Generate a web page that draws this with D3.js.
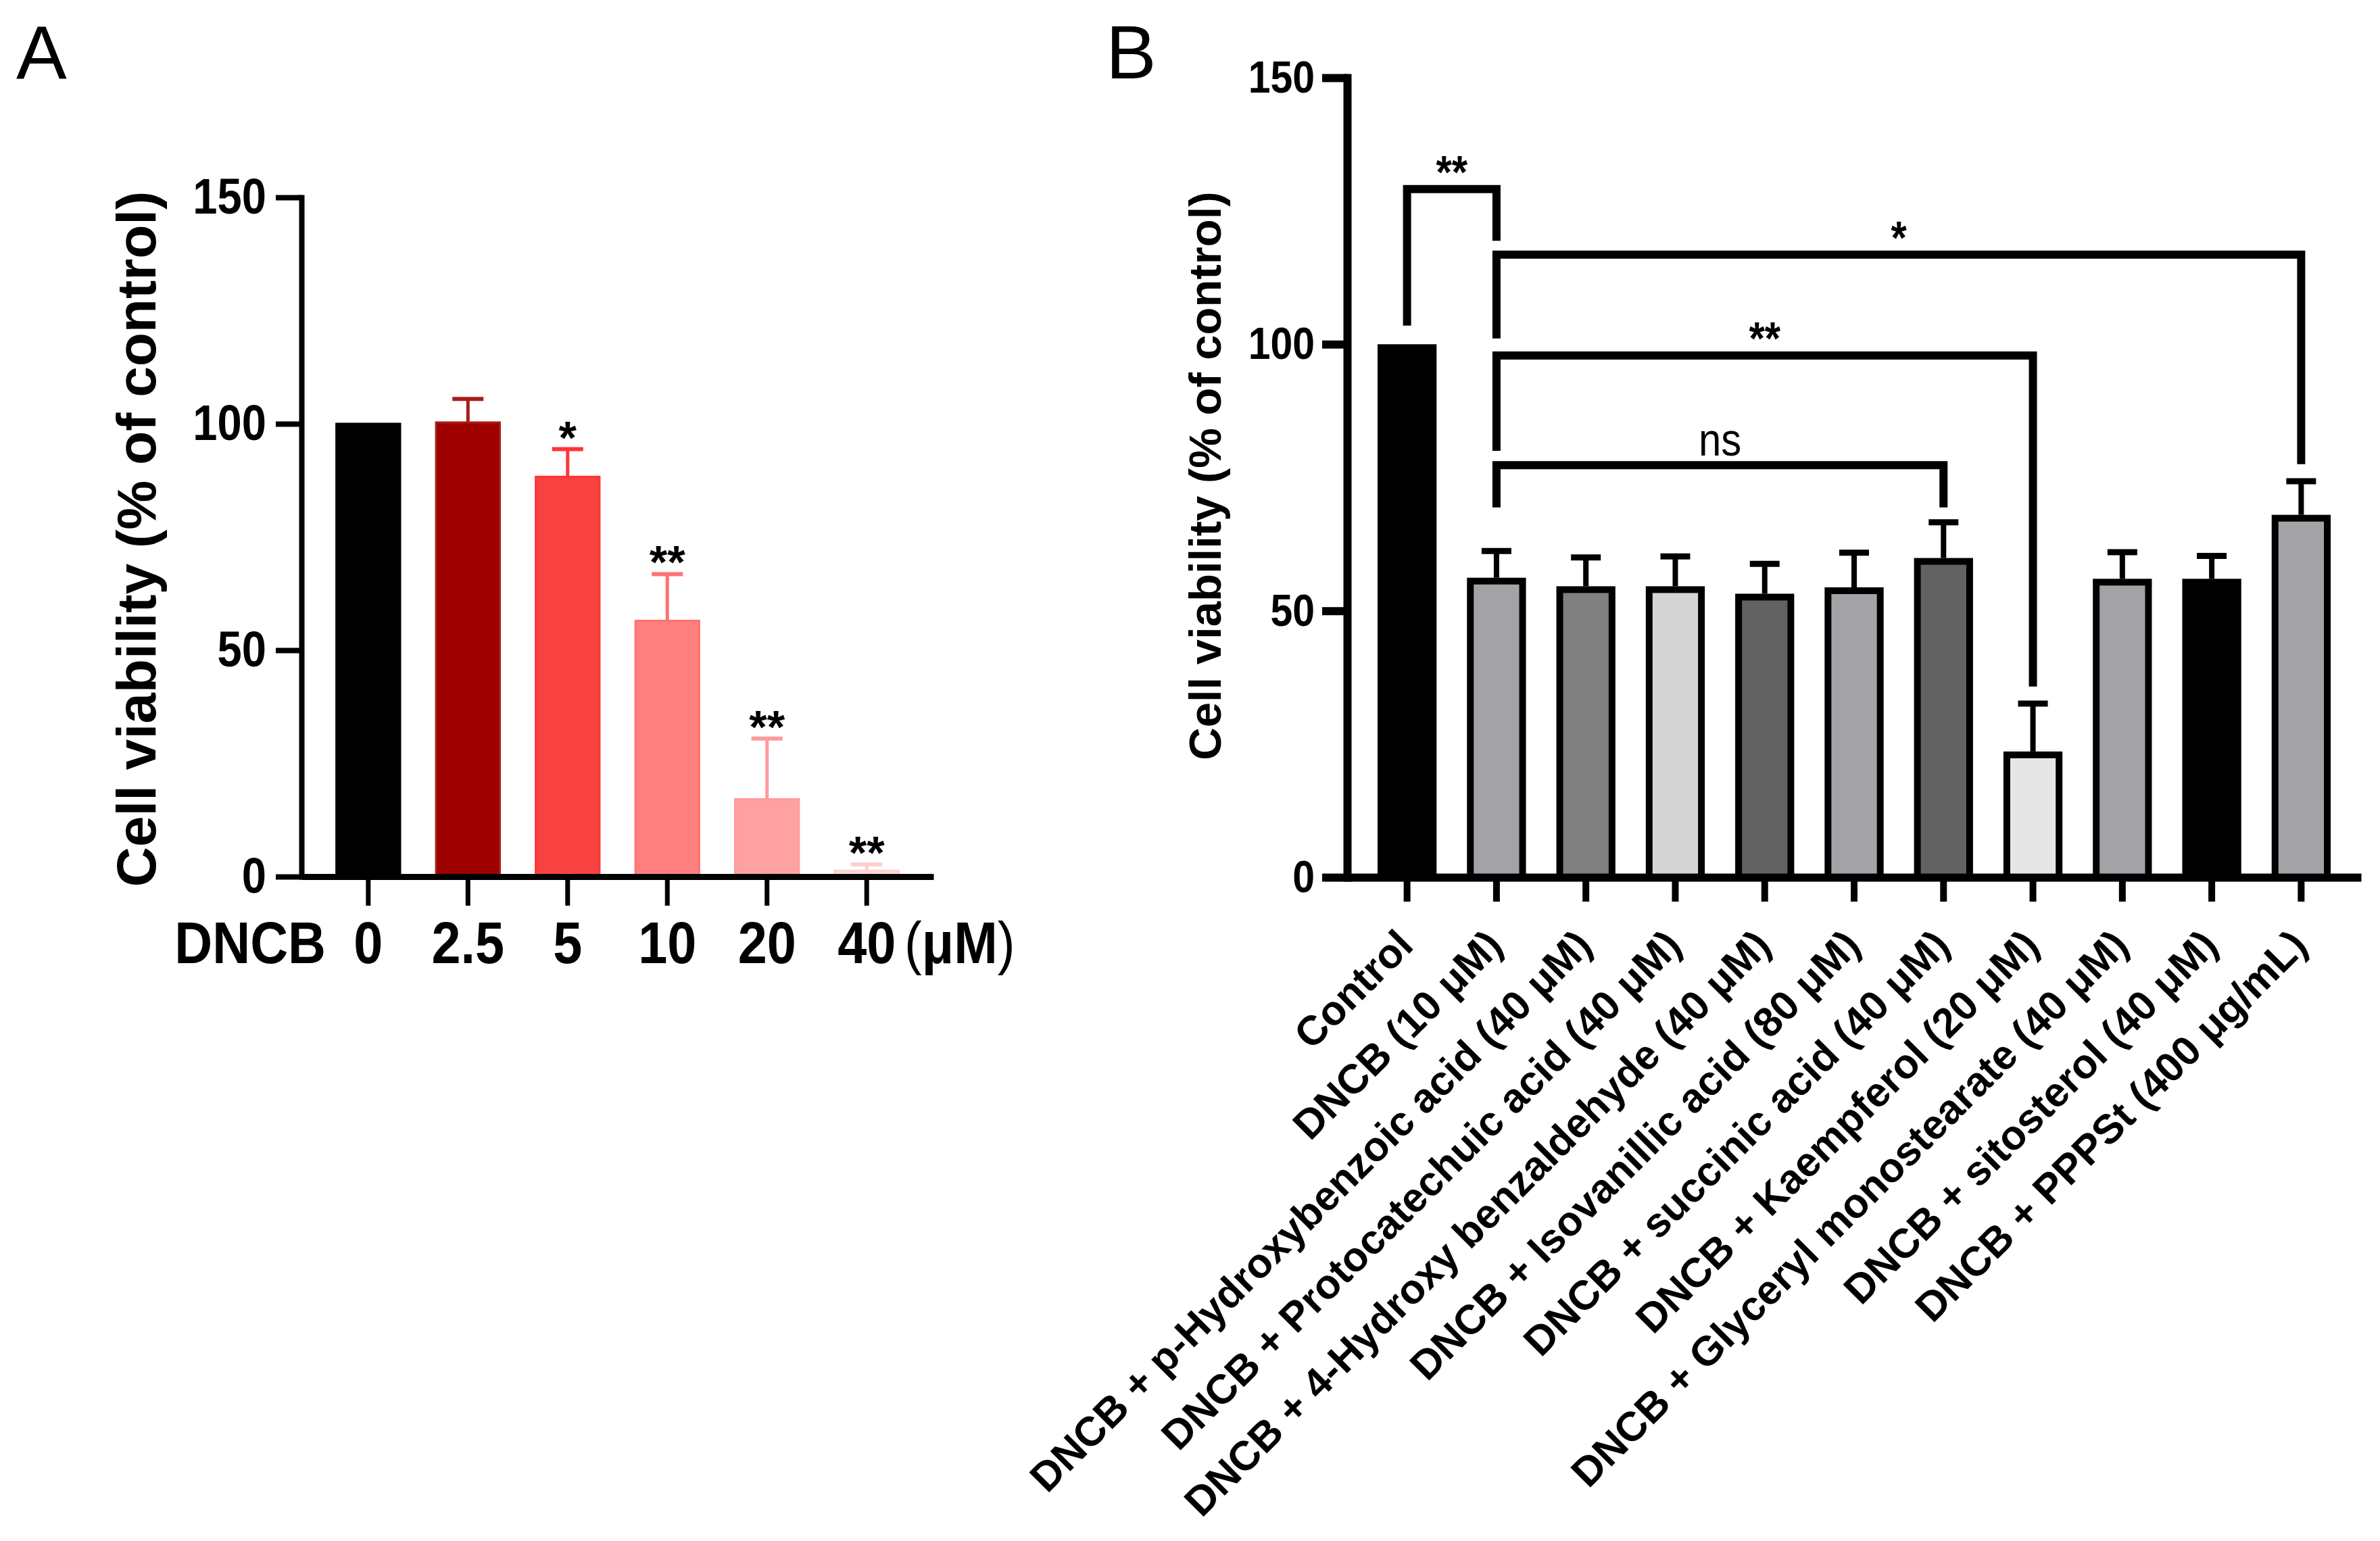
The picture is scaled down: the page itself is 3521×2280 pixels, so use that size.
<!DOCTYPE html>
<html>
<head>
<meta charset="utf-8">
<script src="https://cdn.jsdelivr.net/npm/d3@7"></script>
<style>
  html, body { margin: 0; padding: 0; background: #fff; }
  svg { display: block; }
  text { font-family: "Liberation Sans", Arial, Helvetica, sans-serif; }
</style>
</head>
<body>
<svg id="chart"></svg>
<script>
// [A] Datos ------------------------------------------------------------------
// Panel A: dosis de DNCB
const doseLabels = ["0", "2.5", "5", "10", "20", "40"];
const doseMeans  = [100, 100.3, 88.3, 56.5, 17.1, 1.3];
const doseErrors = [0, 5.2, 6.1, 10.3, 13.4, 1.4];
const doseSig    = ["", "", "*", "**", "**", "**"];
const doseFills  = ["#000000", "#9e0000", "#f84242", "#ff7f7f", "#ffa1a1", "#ffd9d9"];
const doseEdges  = ["#000000", "#a81c1c", "#ff3535", "#ff7272", "#ff9b9b", "#ffcfcf"];

// Panel B: tratamientos
const groupLabels = [
  "Control",
  "DNCB (10 μM)",
  "DNCB + p-Hydroxybenzoic acid (40 μM)",
  "DNCB + Protocatechuic acid (40 μM)",
  "DNCB + 4-Hydroxy benzaldehyde (40 μM)",
  "DNCB + Isovanillic acid (80 μM)",
  "DNCB + succinic acid (40 μM)",
  "DNCB + Kaempferol (20 μM)",
  "DNCB + Glyceryl monostearate (40 μM)",
  "DNCB + sitosterol (40 μM)",
  "DNCB + PPPSt (400 μg/mL)"
];
const groupMeans  = [100, 56.2, 54.6, 54.6, 53.2, 54.4, 59.9, 23.6, 56.0, 56.0, 68.0];
const groupErrors = [0, 5.0, 5.4, 5.6, 5.6, 6.5, 6.7, 9.0, 5.0, 4.3, 6.3];
const groupFills  = ["#000000", "#a3a2a7", "#808080", "#d5d5d5", "#626262", "#a3a2a7",
                     "#626262", "#e6e6e6", "#a3a2a7", "#000000", "#a3a2a7"];

// Comparaciones: indices de barras, nivel y extremos de las patas (en %)
const bracketFrom  = [0, 1, 1, 1];
const bracketTo    = [1, 10, 7, 6];
const bracketLevel = [129.1, 116.8, 97.9, 77.3];
const bracketLeft  = [103.5, 101.1, 80.0, 69.4];
const bracketRight = [119.4, 77.5, 35.8, 69.4];
const bracketText  = ["**", "*", "**", "ns"];

const yTicks = [0, 50, 100, 150];
const yTitle = "Cell viability (% of control)";

// [B] Configuracion ----------------------------------------------------------
const width = 3521;
const height = 2280;
const squeeze = 0.88; // las etiquetas del original estan algo comprimidas

const svg = d3.select("#chart")
  .attr("width", width)
  .attr("height", height)
  .attr("viewBox", `0 0 ${width} ${height}`);

svg.append("rect").attr("width", width).attr("height", height).attr("fill", "#fff");

// comprime el texto horizontalmente sin mover su ancla
function condense(sel) {
  sel.each(function () {
    const t = d3.select(this);
    const x = +t.attr("x") || 0;
    t.attr("x", x / squeeze).attr("transform", `scale(${squeeze},1)`);
  });
}

// [C] Panel A ----------------------------------------------------------------
function drawPanelA() {
  const g = svg.append("g");
  const x = d3.scaleBand().domain(doseLabels).range([446, 1381]).padding(0.34);
  const y = d3.scaleLinear().domain([0, 150]).range([1297, 292]);
  const cx = d => x(d) + x.bandwidth() / 2;
  const top = i => y(doseMeans[i] + doseErrors[i]);

  // barras
  g.selectAll("rect.bar")
    .data(doseLabels)
    .join("rect")
    .attr("class", "bar")
    .attr("x", d => x(d) + 1.5)
    .attr("width", x.bandwidth() - 3)
    .attr("y", (d, i) => y(doseMeans[i]))
    .attr("height", (d, i) => y(0) - y(doseMeans[i]))
    .attr("fill", (d, i) => doseFills[i])
    .attr("stroke", (d, i) => doseEdges[i])
    .attr("stroke-width", 3);

  // barras de error (solo hacia arriba)
  const idx = d3.range(doseLabels.length).filter(i => doseErrors[i] > 0);
  g.selectAll("line.stem")
    .data(idx)
    .join("line")
    .attr("class", "stem")
    .attr("x1", i => cx(doseLabels[i])).attr("x2", i => cx(doseLabels[i]))
    .attr("y1", i => y(doseMeans[i]))
    .attr("y2", top)
    .attr("stroke", i => doseEdges[i])
    .attr("stroke-width", 5);
  g.selectAll("line.cap")
    .data(idx)
    .join("line")
    .attr("class", "cap")
    .attr("x1", i => cx(doseLabels[i]) - 23).attr("x2", i => cx(doseLabels[i]) + 23)
    .attr("y1", top).attr("y2", top)
    .attr("stroke", i => doseEdges[i])
    .attr("stroke-width", 6);

  // asteriscos
  g.selectAll("text.sig")
    .data(doseLabels)
    .join("text")
    .attr("class", "sig")
    .attr("x", cx)
    .attr("y", (d, i) => top(i) + 6)
    .attr("text-anchor", "middle")
    .attr("font-size", 68)
    .attr("font-weight", "bold")
    .text((d, i) => doseSig[i]);

  // eje Y
  const gy = g.append("g")
    .attr("transform", "translate(446,0)")
    .call(d3.axisLeft(y).tickValues(yTicks).tickSize(38).tickSizeOuter(0).tickPadding(14))
    .attr("font-family", null).attr("font-size", null);
  gy.select(".domain").attr("stroke-width", 8).attr("stroke-linecap", "square");
  gy.selectAll(".tick line").attr("stroke-width", 8);
  gy.selectAll(".tick text")
    .attr("font-size", 74).attr("font-weight", "bold").attr("fill", "#000")
    .call(condense);

  // eje X
  const gx = g.append("g")
    .attr("transform", `translate(0,${y(0)})`)
    .call(d3.axisBottom(x).tickSize(43).tickSizeOuter(0))
    .attr("font-family", null).attr("font-size", null);
  gx.select(".domain").attr("stroke-width", 9);
  gx.selectAll(".tick line").attr("stroke-width", 7);
  gx.selectAll(".tick text")
    .attr("y", 128).attr("dy", 0)
    .attr("font-size", 88).attr("font-weight", "bold").attr("fill", "#000")
    .call(condense);

  g.append("text")
    .attr("x", 482).attr("y", y(0) + 128)
    .attr("text-anchor", "end")
    .attr("font-size", 88).attr("font-weight", "bold")
    .text("DNCB")
    .call(condense);

  const unit = g.append("text")
    .attr("x", 1338).attr("y", y(0) + 128)
    .attr("font-size", 88).attr("font-weight", "bold");
  unit.append("tspan").attr("font-weight", "normal").text("(");
  unit.append("tspan").text("μM");
  unit.append("tspan").attr("font-weight", "normal").text(")");
  unit.call(condense);

  // titulo del eje Y
  g.append("text")
    .attr("transform", `translate(230,${(y(0) + y(150)) / 2 + 3}) rotate(-90)`)
    .attr("text-anchor", "middle")
    .attr("font-size", 82).attr("font-weight", "bold")
    .text(yTitle);

  svg.append("text").attr("x", 24).attr("y", 116).attr("font-size", 112).text("A");
}

// [D] Panel B ----------------------------------------------------------------
function drawPanelB() {
  const g = svg.append("g");
  const x = d3.scaleBand().domain(groupLabels).range([1993, 3493]).padding(0.34);
  const y = d3.scaleLinear().domain([0, 150]).range([1298, 115]);
  const sw = 10;
  const cx = i => x(groupLabels[i]) + x.bandwidth() / 2;

  // barras con borde negro
  g.selectAll("rect.bar")
    .data(groupLabels)
    .join("rect")
    .attr("class", "bar")
    .attr("x", d => x(d) + sw / 2)
    .attr("width", x.bandwidth() - sw)
    .attr("y", (d, i) => y(groupMeans[i]) + sw / 2)
    .attr("height", (d, i) => y(0) - y(groupMeans[i]) - sw / 2)
    .attr("fill", (d, i) => groupFills[i])
    .attr("stroke", "#000")
    .attr("stroke-width", sw);

  // barras de error
  const idx = d3.range(groupLabels.length).filter(i => groupErrors[i] > 0);
  g.selectAll("line.stem")
    .data(idx)
    .join("line")
    .attr("class", "stem")
    .attr("x1", cx).attr("x2", cx)
    .attr("y1", i => y(groupMeans[i]))
    .attr("y2", i => y(groupMeans[i] + groupErrors[i]))
    .attr("stroke", "#000").attr("stroke-width", 8);
  g.selectAll("line.cap")
    .data(idx)
    .join("line")
    .attr("class", "cap")
    .attr("x1", i => cx(i) - 22).attr("x2", i => cx(i) + 22)
    .attr("y1", i => y(groupMeans[i] + groupErrors[i]))
    .attr("y2", i => y(groupMeans[i] + groupErrors[i]))
    .attr("stroke", "#000").attr("stroke-width", 9);

  // corchetes de significancia
  const bIdx = d3.range(bracketText.length);
  g.selectAll("path.bracket")
    .data(bIdx)
    .join("path")
    .attr("class", "bracket")
    .attr("d", k => `M${cx(bracketFrom[k])},${y(bracketLeft[k])}V${y(bracketLevel[k])}` +
                    `H${cx(bracketTo[k])}V${y(bracketRight[k])}`)
    .attr("fill", "none")
    .attr("stroke", "#000")
    .attr("stroke-width", 12)
    .attr("stroke-linejoin", "miter");

  g.selectAll("text.sig")
    .data(bIdx)
    .join("text")
    .attr("class", "sig")
    .attr("x", k => (cx(bracketFrom[k]) + cx(bracketTo[k])) / 2)
    .attr("y", k => bracketText[k] === "ns" ? y(bracketLevel[k]) - 14 : y(bracketLevel[k]) - 2)
    .attr("text-anchor", "middle")
    .attr("font-size", k => bracketText[k] === "ns" ? 68 : 68)
    .attr("font-weight", k => bracketText[k] === "ns" ? "normal" : "bold")
    .text(k => bracketText[k])
    .call(condense);

  // eje Y
  const gy = g.append("g")
    .attr("transform", "translate(1993,0)")
    .call(d3.axisLeft(y).tickValues(yTicks).tickSize(37).tickSizeOuter(0).tickPadding(11))
    .attr("font-family", null).attr("font-size", null);
  gy.select(".domain").attr("stroke-width", 12).attr("stroke-linecap", "square");
  gy.selectAll(".tick line").attr("stroke-width", 12);
  gy.selectAll(".tick text")
    .attr("font-size", 67).attr("font-weight", "bold").attr("fill", "#000")
    .call(condense);

  // eje X con etiquetas a 45 grados
  const gx = g.append("g")
    .attr("transform", `translate(0,${y(0)})`)
    .call(d3.axisBottom(x).tickSize(36).tickSizeOuter(0))
    .attr("font-family", null).attr("font-size", null);
  gx.select(".domain").attr("stroke-width", 12);
  gx.selectAll(".tick line").attr("stroke-width", 10);
  gx.selectAll(".tick text")
    .attr("x", 0).attr("y", 0).attr("dy", 0)
    .attr("transform", "translate(12,104) rotate(-45)")
    .attr("text-anchor", "end")
    .attr("font-size", 61).attr("font-weight", "bold").attr("fill", "#000");

  g.append("text")
    .attr("transform", "translate(1806,704) rotate(-90)")
    .attr("text-anchor", "middle")
    .attr("font-size", 67).attr("font-weight", "bold")
    .text(yTitle);

  svg.append("text").attr("x", 1636).attr("y", 116).attr("font-size", 112).text("B");
}

drawPanelA();
drawPanelB();
</script>
</body>
</html>
